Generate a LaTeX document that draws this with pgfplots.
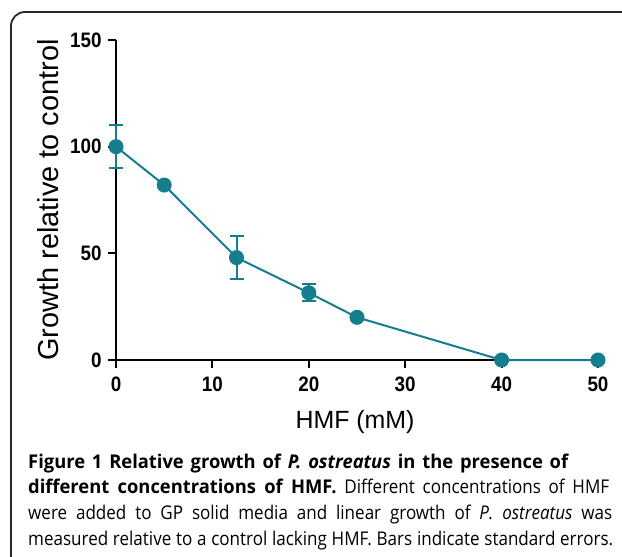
\documentclass[border=0pt]{standalone}
\usepackage{fontspec}
\setmainfont{Liberation Sans}
\newfontfamily\capfont[FakeStretch=0.9, BoldFeatures={FakeStretch=0.97}, BoldItalicFeatures={FakeStretch=0.97}]{Open Sans}
\newfontfamily\tickfont[FakeStretch=0.9]{Liberation Sans}
\usepackage{pgfplots}
\pgfplotsset{compat=1.18}
\definecolor{teal1}{RGB}{20,126,142}
\definecolor{boxgray}{RGB}{40,40,40}
\begin{document}
\begin{tikzpicture}
\useasboundingbox (0bp,0bp) rectangle (622bp,-557bp);
\clip (0bp,0bp) rectangle (622bp,-557bp);
\draw[line width=1.8bp, boxgray, rounded corners=14bp] (11bp,-640bp) -- (11bp,-12bp) -- (700bp,-12bp);
\begin{axis}[
  at={(116bp,-360bp)}, anchor=origin,
  scale only axis, width=482bp, height=320bp,
  xmin=0, xmax=50, ymin=0, ymax=150,
  axis lines=left,
  axis line style={-, line width=2.2bp, black},
  xtick={0,10,20,30,40,50}, ytick={0,50,100,150},
  minor tick num=0,
  tick align=outside, major tick length=8bp,
  tick style={line width=2bp, black},
  tick label style={font=\tickfont\fontsize{21}{21}\selectfont\bfseries},
  xticklabel style={yshift=-5bp},
  yticklabel style={xshift=-3bp},
  /pgf/number format/assume math mode=true,
  clip=false,
]
\addplot[teal1, only marks, mark=none,
  error bars/.cd, y dir=both, y explicit,
  error bar style={line width=2bp, teal1},
  error mark options={rotate=90, mark size=7bp, line width=2bp, teal1}]
  coordinates {(0,100) +- (0,10) (12.5,48) +- (0,10) (20,31.5) +- (0,4)};
\addplot[teal1, line width=2bp, mark=*, mark size=6.5bp, mark options={fill=teal1, draw=teal1, solid}]
  coordinates {(0,100) (5,82) (12.5,48) (20,31.5) (25,20) (40,0) (50,0)};
\end{axis}
\node[rotate=90, anchor=base, font=\fontsize{29}{29}\selectfont] at (58bp,-200bp) {Growth relative to control};
\node[anchor=base, font=\fontsize{25}{25}\selectfont] at (355bp,-428bp) {HMF (mM)};
\begin{scope}[every node/.style={anchor=base west, inner sep=0pt, font=\capfont\fontsize{19}{19}\selectfont}]
\node at (28bp,-468bp) {\makebox[540bp][s]{\bfseries Figure 1 Relative growth of \textit{P. ostreatus} in the presence of}};
\node at (28bp,-493bp) {\makebox[581bp][s]{{\bfseries different concentrations of HMF.} Different concentrations of HMF}};
\node at (28bp,-519bp) {\makebox[584bp][s]{were added to GP solid media and linear growth of \textit{P. ostreatus} was}};
\node at (28bp,-545bp) {\makebox[585bp][s]{measured relative to a control lacking HMF. Bars indicate standard errors.}};
\end{scope}
\end{tikzpicture}
\end{document}
